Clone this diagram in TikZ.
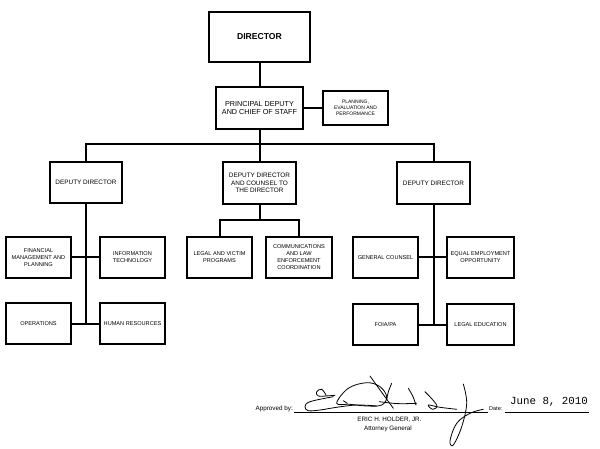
\documentclass[tikz,border=0pt]{standalone}
\usepackage{fontspec}
\setmainfont{Liberation Sans}
\setmonofont{Liberation Mono}
\begin{document}
\begin{tikzpicture}[x=1pt,y=-1pt,
  box/.style={draw,line width=1.2pt,align=center,inner sep=1pt,
    minimum width=65pt,minimum height=41pt,font=\fontsize{5.6}{7}\selectfont},
  depbox/.style={box,line width=1.5pt,minimum width=72pt,minimum height=41pt,
    font=\fontsize{6.4}{7.5}\selectfont},
  pdbox/.style={box,line width=1.7pt,minimum width=87pt,minimum height=42pt,
    font=\fontsize{7.2}{8.5}\selectfont},
  dirbox/.style={box,line width=2pt,minimum width=101pt,minimum height=50pt,
    font=\fontsize{8.6}{10}\selectfont\bfseries},
  pepbox/.style={box,line width=1.3pt,minimum width=65pt,minimum height=34pt,
    font=\fontsize{5}{6}\selectfont},
  conn/.style={line width=2pt},
  lbl/.style={inner sep=0pt,font=\fontsize{6.3}{7}\selectfont},
  sig/.style={line width=0.8pt,line cap=round,line join=round}
]
\useasboundingbox (0,0) rectangle (600,449);

% top
\node[dirbox] (dir) at (259.5,37) {DIRECTOR};
\node[pdbox] (pd) at (259.5,108) {PRINCIPAL DEPUTY\\AND CHIEF OF STAFF};
\node[pepbox] (pep) at (355.5,108) {PLANNING,\\EVALUATION AND\\PERFORMANCE};

% deputies
\node[depbox] (dl) at (86,182.5) {DEPUTY DIRECTOR};
\node[depbox,minimum width=73pt,minimum height=42pt] (dm) at (259.5,183) {DEPUTY DIRECTOR\\AND COUNSEL TO\\THE DIRECTOR};
\node[depbox,minimum width=73pt,minimum height=42pt] (dr) at (433.5,183) {DEPUTY DIRECTOR};

% left group
\node[box] (fin) at (38.5,257.5) {FINANCIAL\\MANAGEMENT AND\\PLANNING};
\node[box] (it) at (132.5,257.5) {INFORMATION\\TECHNOLOGY};
\node[box] (ops) at (38.5,323.5) {OPERATIONS};
\node[box] (hr) at (132.5,323.5) {HUMAN RESOURCES};

% middle group
\node[box] (lvp) at (219.5,257.5) {LEGAL AND VICTIM\\PROGRAMS};
\node[box,minimum width=66pt] (cle) at (299,257.5) {COMMUNICATIONS\\AND LAW\\ENFORCEMENT\\COORDINATION};

% right group
\node[box] (gc) at (385.5,257.5) {GENERAL COUNSEL};
\node[box,minimum width=67pt] (eeo) at (480.5,257.5) {EQUAL EMPLOYMENT\\OPPORTUNITY};
\node[box] (foia) at (385.5,324.5) {FOIA/PA};
\node[box,minimum width=67pt] (led) at (480.5,324.5) {LEGAL EDUCATION};

% connectors
\draw[conn] (dir) -- (pd);
\draw[conn] (pd) -- (pep);
\draw[conn] (pd) -- (dm);
\draw[conn] (dl.north) -- ++(0,-17.5) -| (dr.north);
\draw[conn] (dl.south) -- (dl.south |- ops.east);
\draw[conn] (fin.east) -- (it.west);
\draw[conn] (ops.east) -- (hr.west);
\draw[conn] (dm.south) -- ++(0,15) coordinate (mb);
\draw[conn] (lvp.north) |- (mb) -| (cle.north);
\draw[conn] (dr.south) -- (dr.south |- foia.east);
\draw[conn] (gc.east) -- (eeo.west);
\draw[conn] (foia.east) -- (led.west);

% approval block
\node[lbl,anchor=east] (appr) at (293,409) {Approved by:};
\coordinate (sl1) at (294,412);
\coordinate (sl2) at (488,412);
\draw[line width=0.7pt] (sl1) -- (sl2);
\node[lbl,font=\fontsize{5.5}{6}\selectfont,anchor=west] (datel) at (489,409) {Date:};
\coordinate (dl1) at (505,412);
\coordinate (dl2) at (589,412);
\draw[line width=0.7pt] (dl1) -- (dl2);
\node[inner sep=0pt,font=\fontsize{10.8}{12}\ttfamily] (date) at (549,402) {June 8, 2010};
\node[lbl] (name) at (389.5,420) {ERIC H. HOLDER, JR.};
\node[lbl] (title) at (388,429) {Attorney General};

% signature
\draw[sig] plot[smooth,tension=0.6] coordinates {(326,395) (321.7,389.3) (316.7,391.7) (318.3,396) (330,395.7) (335,395.3)};
\draw[sig] plot[smooth,tension=0.6] coordinates {(333.3,396.7) (310,401.7) (305,406.7) (308.3,410.7) (320,410) (336.7,407.3) (356.7,405) (376.7,406)};
\draw[sig] plot[smooth cycle,tension=0.6] coordinates {(336.7,403.3) (348.3,388.3) (366.7,382.7) (380,386.7) (386.7,396.7) (381.7,405) (366.7,406) (350,404.3)};
\draw[sig] (343.3,400.7) -- (347.3,403.3);
\draw[sig] (370,376) .. controls (380,390) .. (393.3,408.3);
\draw[sig] (391.7,383.3) .. controls (388,392) .. (386.7,400);
\draw[sig] (379.3,401.7) .. controls (398,404) .. (416.7,403.3);
\draw[sig] (408.3,388.3) .. controls (413,396) .. (416,405);
\draw[sig] plot[smooth,tension=0.6] coordinates {(425,391.7) (436.7,405) (432.7,409.3) (428.3,405) (440,407.3) (456.7,409.3)};
\draw[sig] plot[smooth,tension=0.6] coordinates {(463.3,384) (466.7,403.3) (461.7,426.7) (453.3,445) (450,440.7) (456.7,423.3) (470,413.3) (483.3,409.3)};
\end{tikzpicture}
\end{document}
